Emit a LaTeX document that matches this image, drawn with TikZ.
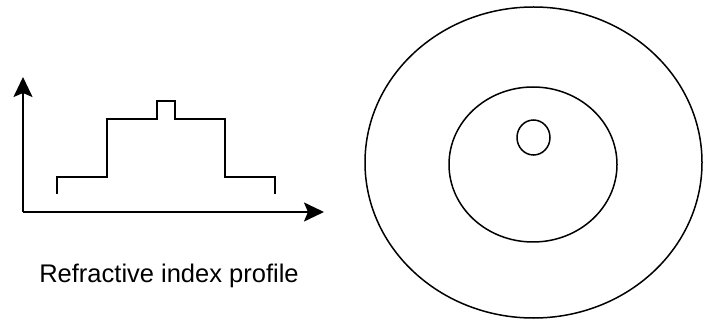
\documentclass[tikz,border=0pt]{standalone}
\usepackage{fontspec}
\setmainfont{Liberation Sans}
\usetikzlibrary{positioning,arrows.meta}

\begin{document}
\begin{tikzpicture}[
            x=1pt, y=-1pt,
            axis/.style={draw, line width=2pt, -{Stealth[length=20pt, width=19pt, inset=4pt]}},
            profile/.style={draw, line width=1.8pt, line join=miter},
            ring/.style={draw, line width=1.5pt},
            >=latex
        ]
        \useasboundingbox (0,0) rectangle (704,320);
        % axes
        \coordinate (origin) at (23,212);
        \coordinate (ytip) at (23,77);
        \coordinate (xtip) at (324,212);
        \draw[axis] (origin) -- (ytip);
        \draw[axis] (origin) -- (xtip);
        % step profile
        \draw[profile] (57,194) -- (57,177) -- (107,177) -- (107,119) -- (157,119)
            -- (157,101) -- (175,101) -- (175,119) -- (225,119) -- (225,177)
            -- (275,177) -- (275,194);
        \node[font=\fontsize{25.5pt}{30pt}\selectfont, anchor=base, inner sep=0pt] (caption) at (169,283) {Refractive index profile};
        % fibre cross section
        \draw[ring] (533.5,162.5) ellipse [x radius=168.5, y radius=155.5];
        \draw[ring] (533,164.5) ellipse [x radius=84, y radius=77.5];
        \draw[ring] (533.5,137.5) ellipse [x radius=16.5, y radius=17.5];
\end{tikzpicture}
\end{document}
